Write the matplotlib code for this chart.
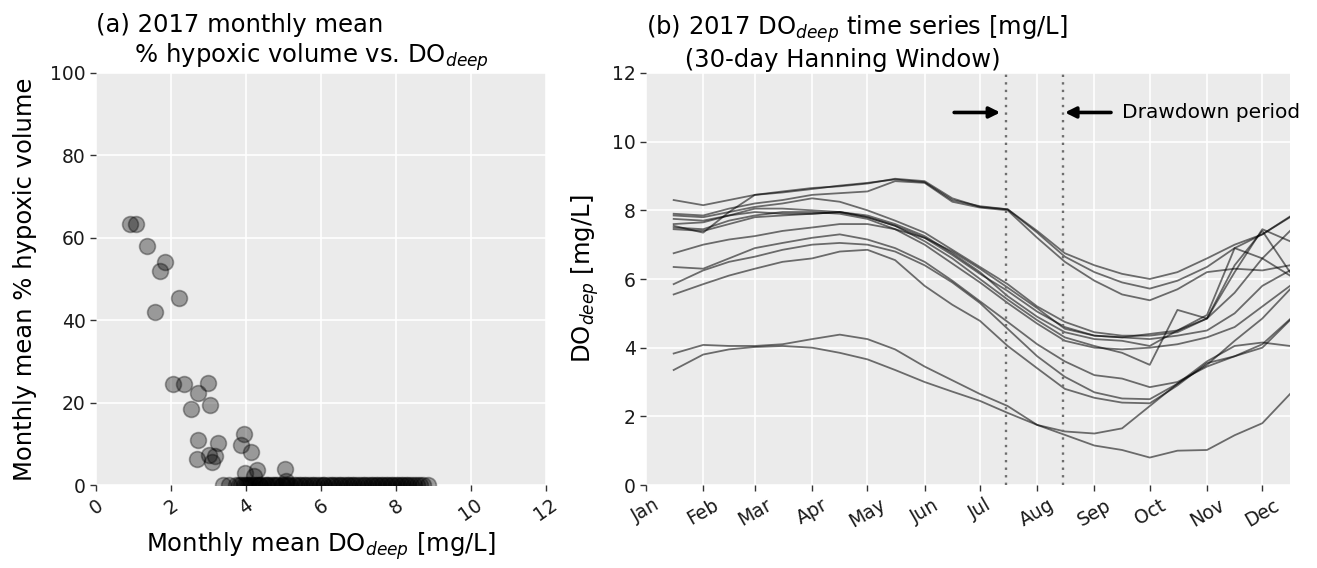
import numpy as np
import matplotlib
matplotlib.use('Agg')
import matplotlib.pyplot as plt
import matplotlib.dates as mdates

# ---------------- data: panel (a) ----------------
# monthly mean DO_deep [mg/L] and % hypoxic volume (months with hypoxia)
hyp_do = [0.90, 1.07, 1.37, 1.85, 1.71, 2.22, 1.57, 2.05, 2.35, 2.99, 2.73, 2.52,
          3.03, 2.73, 3.26, 3.95, 3.86, 4.13, 2.68, 3.00, 3.17, 3.08, 3.97, 4.28,
          4.22, 5.04, 5.06]
hyp_pct = [63.3, 63.3, 58.1, 54.2, 51.9, 45.5, 42.1, 24.5, 24.5, 24.8, 22.3, 18.4,
           19.3, 10.9, 10.1, 12.4, 9.7, 7.9, 6.2, 7.3, 7.0, 5.5, 3.0, 3.6,
           2.3, 3.8, 0.9]
# monthly mean DO_deep for months without hypoxia (0 %)
zero_do = [3.38, 3.55, 3.72, 3.81, 3.86, 3.94, 4.01, 4.06, 4.11, 4.17, 4.24, 4.29,
           4.35, 4.37, 4.44, 4.52, 4.55, 4.61, 4.68, 4.74, 4.79, 4.86, 4.95, 4.99,
           5.07, 5.12, 5.18, 5.27, 5.33, 5.41, 5.46, 5.55, 5.61, 5.68, 5.77, 5.82,
           5.90, 5.96, 6.04, 6.09, 6.18, 6.26, 6.31, 6.40, 6.47, 6.53, 6.61, 6.69,
           6.74, 6.83, 6.88, 6.97, 7.03, 7.11, 7.18, 7.24, 7.32, 7.38, 7.46, 7.52,
           7.60, 7.66, 7.73, 7.79, 7.86, 7.92, 7.99, 8.05, 8.12, 8.19, 8.26, 8.33,
           8.41, 8.48, 8.56, 8.63, 8.72, 8.86]
zero_pct = [0.0] * len(zero_do)

# ---------------- data: panel (b) ----------------
# sample days (offset from 2017-01-01)
days = [15, 31, 45, 59, 74, 90, 105, 120, 135, 151, 166, 181, 196, 212, 227, 243,
        258, 273, 288, 304, 319, 334, 349]
do_h1 = [8.30, 8.15, 8.30, 8.45, 8.52, 8.62, 8.72, 8.80, 8.90, 8.82, 8.30, 8.12,
         8.03, 7.40, 6.75, 6.40, 6.15, 6.00, 6.20, 6.60, 7.00, 7.30, 7.80]
do_h2 = [7.55, 7.35, 7.95, 8.45, 8.55, 8.65, 8.70, 8.78, 8.92, 8.85, 8.35, 8.10,
         8.03, 7.35, 6.65, 6.20, 5.90, 5.72, 5.95, 6.35, 6.90, 7.30, 7.82]
do_h3 = [7.90, 7.85, 8.05, 8.20, 8.30, 8.45, 8.50, 8.55, 8.85, 8.80, 8.25, 8.08,
         8.00, 7.20, 6.50, 5.95, 5.55, 5.38, 5.70, 6.20, 6.30, 6.25, 6.40]
do_m1 = [7.85, 7.80, 7.95, 8.10, 8.20, 8.35, 8.25, 8.00, 7.70, 7.35, 6.85, 6.35,
         5.85, 5.20, 4.75, 4.45, 4.35, 4.35, 4.45, 4.85, 5.60, 6.60, 7.40]
do_m2 = [7.75, 7.70, 7.85, 8.05, 8.05, 8.00, 7.95, 7.80, 7.55, 7.20, 6.70, 6.15,
         5.65, 5.05, 4.60, 4.35, 4.30, 4.40, 4.50, 4.85, 6.20, 7.45, 7.10]
do_m3 = [7.60, 7.65, 7.85, 7.95, 7.90, 7.90, 7.95, 7.85, 7.60, 7.25, 6.75, 6.20,
         5.50, 4.90, 4.45, 4.25, 4.20, 4.05, 4.50, 4.95, 6.90, 6.60, 6.10]
do_m4 = [7.45, 7.40, 7.60, 7.80, 7.85, 7.90, 7.95, 7.80, 7.55, 7.10, 6.60, 6.00,
         5.40, 4.80, 4.30, 4.05, 3.85, 3.50, 5.10, 4.85, 6.40, 7.40, 6.20]
do_m5 = [7.50, 7.45, 7.70, 7.85, 7.95, 7.95, 7.90, 7.75, 7.45, 7.00, 6.45, 5.90,
         5.30, 4.70, 4.20, 4.00, 3.95, 4.00, 4.10, 4.30, 4.60, 5.20, 5.80]
do_m6 = [6.35, 6.30, 6.60, 6.90, 7.05, 7.20, 7.30, 7.15, 6.90, 6.50, 5.95, 5.35,
         4.75, 4.10, 3.60, 3.20, 3.10, 2.85, 3.00, 3.45, 3.75, 4.10, 4.83]
do_m7 = [6.75, 7.00, 7.15, 7.25, 7.40, 7.50, 7.60, 7.60, 7.45, 7.20, 6.80, 6.30,
         5.75, 5.15, 4.55, 4.35, 4.30, 4.25, 4.35, 4.50, 5.00, 5.80, 6.25]
do_l5 = [5.85, 6.25, 6.50, 6.65, 6.85, 7.00, 7.05, 7.00, 6.80, 6.40, 5.90, 5.30,
         4.55, 3.75, 3.15, 2.70, 2.52, 2.50, 2.95, 3.50, 4.20, 4.85, 5.70]
do_l6 = [5.55, 5.85, 6.10, 6.30, 6.50, 6.60, 6.80, 6.85, 6.55, 5.80, 5.25, 4.78,
         4.05, 3.40, 2.80, 2.54, 2.40, 2.38, 2.90, 3.55, 3.75, 4.00, 4.80]
do_l2 = [3.83, 4.08, 4.05, 4.05, 4.10, 4.25, 4.38, 4.25, 3.95, 3.45, 3.05, 2.65,
         2.30, 1.75, 1.56, 1.50, 1.65, 2.30, 2.95, 3.60, 4.05, 4.15, 4.05]
do_l1 = [3.35, 3.80, 3.95, 4.02, 4.05, 4.00, 3.85, 3.66, 3.35, 3.00, 2.72, 2.45,
         2.10, 1.75, 1.46, 1.15, 1.02, 0.80, 1.00, 1.02, 1.45, 1.80, 2.65]
station_series = [do_h1, do_h2, do_h3, do_m1, do_m2, do_m3, do_m4, do_m5, do_m6,
                  do_m7, do_l5, do_l6, do_l2, do_l1]

month_labels = ['Jan', 'Feb', 'Mar', 'Apr', 'May', 'Jun', 'Jul', 'Aug', 'Sep',
                'Oct', 'Nov', 'Dec']
drawdown = ['2017-07-15', '2017-08-15']

# ---------------- figure ----------------
plt.rcParams['font.family'] = ['DejaVu Sans']
plt.rcParams['mathtext.fontset'] = 'dejavusans'

fig = plt.figure(figsize=(13.17, 5.68), dpi=100)
ax1 = fig.add_axes([0.0729, 0.1461, 0.3417, 0.7254])
ax2 = fig.add_axes([0.4905, 0.1461, 0.4890, 0.7254])

bg = '#EBEBEB'
for ax in (ax1, ax2):
    ax.set_facecolor(bg)
    ax.grid(True, color='white', lw=1.2)
    ax.set_axisbelow(True)
    for s in ax.spines.values():
        s.set_visible(False)
    ax.tick_params(length=4, width=1, color='#333333', labelsize=13.5,
                   labelcolor='#1a1a1a')

# panel (a)
ax1.scatter(zero_do, zero_pct, s=130, facecolor=(0, 0, 0, 0.35),
            edgecolor=(0, 0, 0, 0.35), linewidth=1.2, zorder=3)
ax1.scatter(hyp_do, hyp_pct, s=130, facecolor=(0, 0, 0, 0.35),
            edgecolor=(0, 0, 0, 0.35), linewidth=1.2, zorder=3)
ax1.set_xlim(0, 12)
ax1.set_ylim(0, 100)
ax1.set_xticks(range(0, 13, 2))
ax1.set_yticks(range(0, 101, 20))
for lab in ax1.get_xticklabels():
    lab.set_rotation(35)
ax1.set_xlabel('Monthly mean DO$_{deep}$ [mg/L]', fontsize=17.5)
ax1.set_ylabel('Monthly mean % hypoxic volume', fontsize=17.5, labelpad=9)
ax1.set_title('(a) 2017 monthly mean\n     % hypoxic volume vs. DO$_{deep}$',
              loc='left', fontsize=17.5, pad=4)

# panel (b)
t = np.datetime64('2017-01-01') + np.array(days).astype('timedelta64[D]')
tn = mdates.date2num(t)
for ser in station_series:
    ax2.plot(tn, ser, color='k', alpha=0.55, lw=1.3)
for d in drawdown:
    ax2.axvline(mdates.date2num(np.datetime64(d)), color='#6e6e6e', ls=(0, (1, 2.2)),
                lw=1.7)
ax2.set_xlim(mdates.date2num(np.datetime64('2017-01-01')),
             mdates.date2num(np.datetime64('2017-12-16')))
ax2.set_ylim(0, 12)
ax2.set_yticks(range(0, 13, 2))
ax2.xaxis.set_major_locator(mdates.MonthLocator())
ax2.set_xticks(ax2.get_xticks())
ax2.set_xticklabels(month_labels, rotation=30)
ax2.set_ylabel('DO$_{deep}$ [mg/L]', fontsize=17.5, labelpad=8)
ax2.set_title('(b) 2017 DO$_{deep}$ time series [mg/L]\n     (30-day Hanning Window)',
              loc='left', fontsize=17.5, pad=4)

ya = 10.85
ap = dict(arrowstyle='-|>', color='k', lw=2.6, mutation_scale=16, shrinkA=0, shrinkB=0)
ax2.annotate('', xy=(mdates.date2num(np.datetime64('2017-07-12')), ya),
             xytext=(mdates.date2num(np.datetime64('2017-06-17')), ya), arrowprops=ap)
ax2.annotate('', xy=(mdates.date2num(np.datetime64('2017-08-16')), ya),
             xytext=(mdates.date2num(np.datetime64('2017-09-10')), ya), arrowprops=ap)
ax2.text(mdates.date2num(np.datetime64('2017-09-16')), ya, 'Drawdown period',
         va='center', ha='left', fontsize=14.5)

fig.savefig('out.png', dpi=100)
